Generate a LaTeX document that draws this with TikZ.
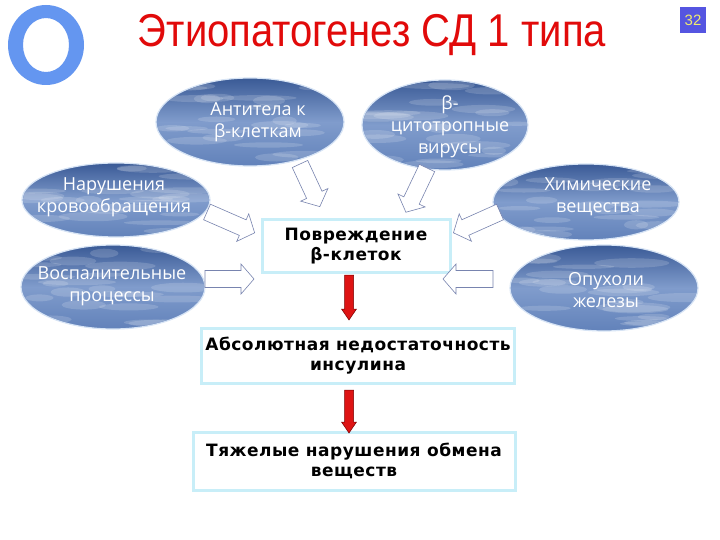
\documentclass[tikz,border=0pt]{standalone}
\usepackage{fontspec}
\setmainfont{Liberation Sans}
\newfontfamily\boxfont[LetterSpace=3]{DejaVu Sans}
\newfontfamily\cloudfont{Open Sans}
\usetikzlibrary{shapes.geometric}
\definecolor{ringblue}{RGB}{100,150,240}
\definecolor{titlered}{RGB}{225,10,10}
\definecolor{numblue}{RGB}{85,85,225}
\definecolor{numyellow}{RGB}{240,235,110}
\definecolor{skytop}{RGB}{58,90,150}
\definecolor{skymid}{RGB}{128,156,204}
\definecolor{skybot}{RGB}{98,130,186}
\definecolor{skyedge}{RGB}{215,228,245}
\definecolor{boxedge}{RGB}{200,238,248}
\definecolor{arrowline}{RGB}{120,132,175}
\definecolor{redfill}{RGB}{222,20,20}
\definecolor{redline}{RGB}{120,0,0}
\tikzset{
  skyell/.style={ellipse, inner sep=0pt, top color=skytop, bottom color=skybot, middle color=skymid,
    draw=skyedge, line width=1.2pt},
  cloudtext/.style={text=white, align=center, inner sep=0pt,
    font=\cloudfont\fontsize{18}{22}\selectfont},
  stagebox/.style={rectangle, draw=boxedge, line width=3pt, fill=white, align=center,
    font=\boxfont\bfseries\fontsize{17}{20}\selectfont, text=black},
  hollowline/.style={draw=arrowline, fill=white, line width=0.6pt, line join=miter},
  redline/.style={draw=redline, fill=redfill, line width=0.5pt}
}
% name, cx, cy, rx, ry, seed
\newcommand\skyblob[6]{%
  \node[skyell, minimum width=2*#4 pt, minimum height=2*#5 pt] (#1) at (#2,#3) {};
  \begin{scope}
    \clip (#2,#3) ellipse [x radius=#4pt-1pt, y radius=#5pt-1pt];
    \pgfmathsetseed{#6}
    \foreach \i in {1,...,22} {
      \pgfmathsetmacro\dx{(rnd-0.5)*1.8*#4}
      \pgfmathsetmacro\dy{(rnd-0.5)*1.8*#5}
      \pgfmathsetmacro\w{12+rnd*28}
      \pgfmathsetmacro\h{2+rnd*3}
      \fill[white, opacity=0.16] (#2+\dx,#3+\dy) ellipse [x radius=\w pt, y radius=\h pt];
    }
  \end{scope}}
% name, x, y, angle, length
\newcommand\hollowarr[5]{%
  \begin{scope}[shift={(#2,#3)}, rotate=#4]
    \coordinate (#1) at (0,0);
    \draw[hollowline] (0pt,-8.5pt) -- (#5pt-13pt,-8.5pt) -- (#5pt-13pt,-15pt) -- (#5pt,0pt)
      -- (#5pt-13pt,15pt) -- (#5pt-13pt,8.5pt) -- (0pt,8.5pt) -- cycle;
  \end{scope}}
% name, x, y, length (pointing down)
\newcommand\redarr[4]{%
  \begin{scope}[shift={(#2,#3)}, rotate=-90]
    \coordinate (#1) at (0,0);
    \draw[redline] (0pt,-4.5pt) -- (#4pt-11pt,-4.5pt) -- (#4pt-11pt,-7.5pt) -- (#4pt,0pt)
      -- (#4pt-11pt,7.5pt) -- (#4pt-11pt,4.5pt) -- (0pt,4.5pt) -- cycle;
  \end{scope}}
\begin{document}
\begin{tikzpicture}[x=1pt,y=-1pt]
\useasboundingbox (0,0) rectangle (720,540);
\fill[white] (0,0) rectangle (720,540);
% ring
\fill[ringblue, even odd rule] (46,45) ellipse [x radius=38pt, y radius=40pt]
  (46,45) ellipse [x radius=23pt, y radius=27pt];
% title
\node[text=titlered, font=\fontsize{46}{46}\selectfont, xscale=0.87, anchor=base, inner sep=0pt] (title) at (372,47) {Этиопатогенез СД 1 типа};
% page number
\node[fill=numblue, text=numyellow, minimum size=26pt, inner sep=0pt, font=\fontsize{15}{15}\selectfont] (pg) at (693,20) {32};
% ellipses
\skyblob{ab}{250}{122}{94}{44}{11}
\skyblob{vir}{445}{125}{83}{45}{23}
\skyblob{nar}{116}{200}{94}{37}{37}
\skyblob{vos}{113}{287}{92}{42}{41}
\skyblob{him}{586}{202}{93}{38}{53}
\skyblob{opu}{604}{288}{94}{43}{67}
\node[cloudtext] (tab) at (258,122) {Антитела к\\β-клеткам};
\node[cloudtext] (tvir) at (450,127) {β-\\цитотропные\\вирусы};
\node[cloudtext] (tnar) at (114,197) {Нарушения\\кровообращения};
\node[cloudtext] (tvos) at (112,286) {Воспалительные\\процессы};
\node[cloudtext] (thim) at (598,197) {Химические\\вещества};
\node[cloudtext] (topu) at (606,290) {Опухоли\\железы};
% boxes
\node[stagebox, minimum width=188pt, minimum height=52pt] (b1) at (356,246) {Повреждение\\β-клеток};
\node[stagebox, minimum width=313pt, minimum height=55pt] (b2) at (358,355.5) {Абсолютная недостаточность\\инсулина};
\node[stagebox, minimum width=322pt, minimum height=58pt] (b3) at (354,461) {Тяжелые нарушения обмена\\веществ};
% hollow arrows
\hollowarr{anar}{207}{212}{-23.6}{52}
\hollowarr{avos}{205}{279}{0}{49}
\hollowarr{aopu}{493}{279}{180}{50}
\hollowarr{ahim}{500}{212}{-155.9}{51}
\hollowarr{aab}{300}{164}{-65.1}{47}
\hollowarr{avir}{427}{168}{-115.5}{49}
% red arrows
\redarr{r1}{349}{275}{45}
\redarr{r2}{349}{390}{43}
\end{tikzpicture}
\end{document}
